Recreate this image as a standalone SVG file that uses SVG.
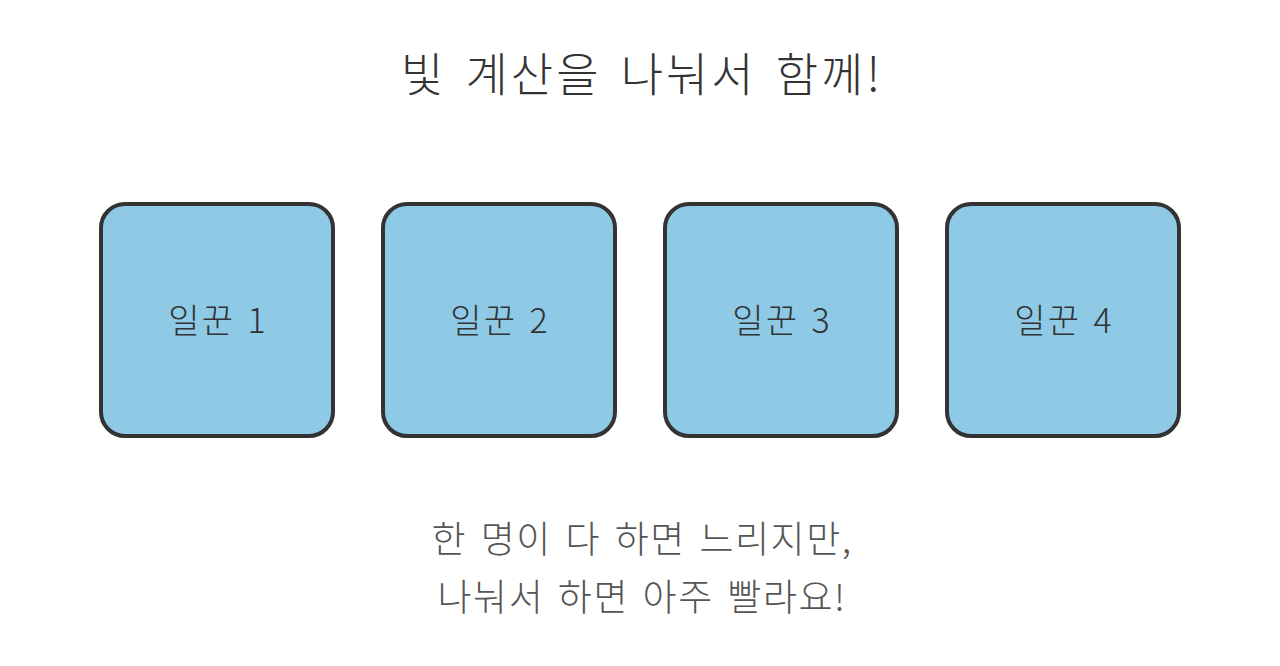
<svg xmlns="http://www.w3.org/2000/svg" width="1280" height="666" viewBox="0 0 1280 666">
<style>
text{font-family:"Noto Sans CJK KR","Noto Sans",sans-serif;text-anchor:middle;font-weight:300}
.title{font-size:46px;fill:#333;letter-spacing:3px;word-spacing:6px}
.box{fill:#8ECAE6;stroke:#333;stroke-width:4}
.lbl{font-size:34px;fill:#333;letter-spacing:2px;word-spacing:3px}
.note{font-size:37px;fill:#555;letter-spacing:1.5px;word-spacing:4px}
</style>
<rect width="1280" height="666" fill="#fff"/>
<g id="title"><text class="title" x="642" y="91">빛 계산을 나눠서 함께!</text></g>
<g id="worker1"><rect class="box" x="101" y="204" width="232" height="232" rx="24"/><text class="lbl" x="218" y="333">일꾼 1</text></g>
<g id="worker2"><rect class="box" x="383" y="204" width="232" height="232" rx="24"/><text class="lbl" x="500" y="333">일꾼 2</text></g>
<g id="worker3"><rect class="box" x="665" y="204" width="232" height="232" rx="24"/><text class="lbl" x="782" y="333">일꾼 3</text></g>
<g id="worker4"><rect class="box" x="947" y="204" width="232" height="232" rx="24"/><text class="lbl" x="1064" y="333">일꾼 4</text></g>
<g id="connectors"></g>
<g id="note"><text class="note" x="642" y="553">한 명이 다 하면 느리지만,</text><text class="note" x="642" y="611">나눠서 하면 아주 빨라요!</text></g>
</svg>
